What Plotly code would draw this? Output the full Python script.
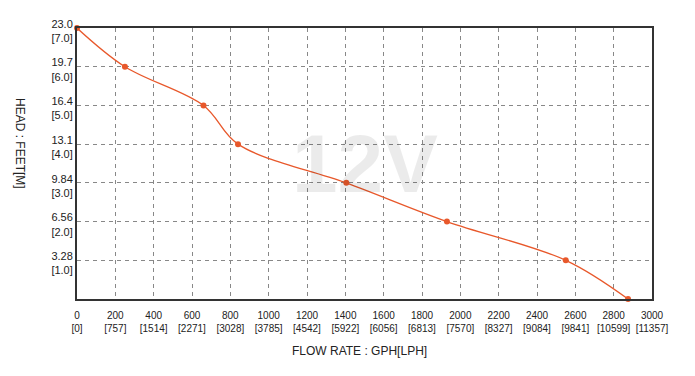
import plotly.graph_objects as go

# Data
flow_gph = [0, 250, 660, 840, 1405, 1930, 2550, 2875]
head_m = [7.0, 6.0, 5.0, 4.0, 3.0, 2.0, 1.0, 0.0]

x_ticks = list(range(0, 3001, 200))
x_ticklabels = ["0<br>[0]", "200<br>[757]", "400<br>[1514]", "600<br>[2271]", "800<br>[3028]",
                "1000<br>[3785]", "1200<br>[4542]", "1400<br>[5922]", "1600<br>[6056]",
                "1800<br>[6813]", "2000<br>[7570]", "2200<br>[8327]", "2400<br>[9084]",
                "2600<br>[9841]", "2800<br>[10599]", "3000<br>[11357]"]
y_ticks = [1, 2, 3, 4, 5, 6, 7]
y_ticklabels = ["3.28<br>[1.0]", "6.56<br>[2.0]", "9.84<br>[3.0]", "13.1<br>[4.0]",
                "16.4<br>[5.0]", "19.7<br>[6.0]", "23.0<br>[7.0]"]

watermark = "12V"
orange = "#E8582B"
font_family = "Liberation Sans, Arial, sans-serif"

# page has an 8px body margin; figure sized to fit the window
OFF = 8
W, H = 695 - OFF, 376 - OFF
ml, mr, mt, mb = 77 - OFF, 43, 28 - OFF, 77
pw, ph = W - ml - mr, H - mt - mb


def px(xp):
    return (xp - OFF - ml) / pw


def py(yp):
    return (H - mb - (yp - OFF)) / ph


fig = go.Figure()

fig.add_trace(go.Scatter(
    x=flow_gph, y=head_m,
    mode="lines+markers",
    line=dict(color=orange, width=1.3, shape="spline", smoothing=1.0),
    marker=dict(color=orange, size=6),
    hoverinfo="skip",
    showlegend=False,
    cliponaxis=False,
))

fig.add_annotation(
    x=1500, y=3.49, xref="x", yref="y",
    text="<b>" + watermark + "</b>", showarrow=False,
    font=dict(family=font_family, size=82, color="rgba(0,0,0,0.08)"),
)

fig.add_annotation(
    x=px(20), y=py(143), xref="paper", yref="paper", text="HEAD : FEET[M]",
    xanchor="center", yanchor="middle",
    showarrow=False, textangle=90,
    font=dict(family=font_family, size=12, color="#222"),
)

fig.add_annotation(
    x=px(359), y=py(351), xref="paper", yref="paper",
    xanchor="center", yanchor="middle",
    text="FLOW RATE : GPH[LPH]", showarrow=False,
    font=dict(family=font_family, size=12, color="#222"),
)

fig.update_layout(
    width=W, height=H,
    margin=dict(l=ml, r=mr, t=mt, b=mb, autoexpand=False),
    paper_bgcolor="white", plot_bgcolor="white",
    font=dict(family=font_family, size=11, color="#222"),
)

fig.update_xaxes(
    range=[0, 3000], tickvals=x_ticks, ticktext=x_ticklabels,
    showgrid=True, gridcolor="#888", griddash="4px,4px", gridwidth=1,
    showline=True, linecolor="#333", linewidth=2, mirror=True,
    ticks="", zeroline=False, tickfont=dict(size=10, color="#222"),
    ticklabelstandoff=6,
)
fig.update_yaxes(
    range=[0, 7], tickvals=y_ticks, ticktext=y_ticklabels,
    showgrid=True, gridcolor="#888", griddash="4px,4px", gridwidth=1,
    showline=True, linecolor="#333", linewidth=2, mirror=True,
    ticks="", zeroline=False, tickfont=dict(size=11, color="#222"),
    ticklabelshift=3,
)

fig.write_html("out.html")
